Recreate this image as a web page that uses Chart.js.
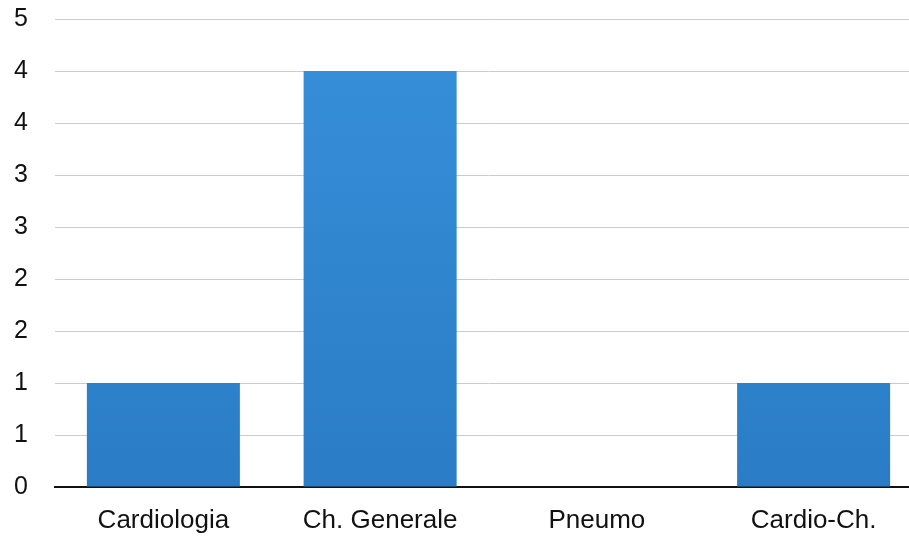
<!DOCTYPE html>
<html>
<head>
<meta charset="utf-8">
<script src="https://cdn.jsdelivr.net/npm/chart.js@4"></script>
<style>
  html, body { margin: 0; padding: 0; background: #fff; overflow: hidden; }
  #wrap { width: 922px; height: 537px; }
</style>
</head>
<body>
<div id="wrap"><canvas id="barChart"></canvas></div>
<script>
const categories = ['Cardiologia', 'Ch. Generale', 'Pneumo', 'Cardio-Ch.'];
const values = [1, 4, 0, 1];
const yMax = 4.5;
const yStep = 0.5;

function barFill(ctx) {
  const area = ctx.chart.chartArea;
  if (!area) return '#3189d4';
  const g = ctx.chart.ctx.createLinearGradient(0, area.top, 0, area.bottom);
  g.addColorStop(0, '#3890da');
  g.addColorStop(1, '#2a7cc6');
  return g;
}

let barChartItem = new Chart(document.getElementById('barChart'), {
  type: 'bar',
  data: {
    labels: categories,
    datasets: [{
      data: values,
      backgroundColor: barFill,
      borderWidth: 0,
      categoryPercentage: 1,
      barPercentage: 0.706
    }]
  },
  options: {
    responsive: true,
    maintainAspectRatio: false,
    animation: false,
    layout: { padding: 0 },
    plugins: { legend: { display: false }, tooltip: { enabled: false } },
    scales: {
      x: {
        afterFit: s => { s.height = 50; },
        grid: { display: false, drawTicks: false },
        border: { display: true, color: '#111', width: 2 },
        ticks: { color: '#111', padding: 18, font: { family: 'Liberation Sans', size: 26 } }
      },
      y: {
        min: 0,
        max: yMax,
        afterFit: s => { s.width = 55; },
        // invisible tick marks push the labels left without adding top padding
        grid: { color: '#cbcbcb', lineWidth: 1, drawTicks: true, tickLength: 23, tickColor: 'rgba(0,0,0,0)' },
        border: { display: false },
        ticks: {
          stepSize: yStep,
          color: '#111',
          padding: 4,
          font: { family: 'Liberation Sans', size: 25 },
          callback: v => Math.round(v)
        }
      }
    }
  }
});
</script>
</body>
</html>
